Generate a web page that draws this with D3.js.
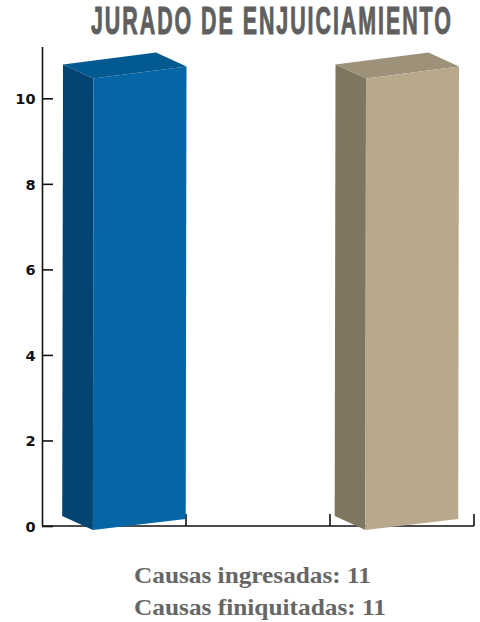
<!DOCTYPE html>
<html><head><meta charset="utf-8">
<script src="https://cdn.jsdelivr.net/npm/d3@7"></script>
<style>html,body{margin:0;padding:0;background:#fff}svg{display:block}</style>
</head><body><svg id="c" width="480" height="622"></svg>
<script>
const title = "JURADO DE ENJUICIAMIENTO";
const categories = ["Causas ingresadas", "", "Causas finiquitadas"];
const values = [11, null, 11];
const yTicks = [0, 2, 4, 6, 8, 10];
const frontColors = ["#0565a5", null, "#b8a98d"];
const sideColors = ["#024573", null, "#7e7660"];
const topColors = ["#035a91", null, "#9d917a"];

const svg = d3.select("#c");
const y = d3.scaleLinear().domain([0, 11.2]).range([526, 47]);
const xAxisScale = d3.scaleBand().domain(categories).range([42, 474]);
const barLeft = d3.scalePoint().domain(categories).range([63, 335.5]);

const dx = 30.5, frontW = 93, topRise = 12, depth = 14;
const data = categories.map((c, i) => ({c, v: values[i], i})).filter(d => d.v != null);
const pts = a => a.map(p => p.join(",")).join(" ");

const axisG = svg.append("g").attr("stroke", "#111").attr("stroke-width", 1.6).attr("fill", "none");
const yAxis = d3.axisRight(y).tickValues(yTicks).tickSize(11).tickFormat("");
svg.append("g").attr("transform", "translate(42,0)").call(yAxis)
  .call(g => g.selectAll("line").attr("stroke", "#111").attr("stroke-width", 1.6))
  .call(g => g.select(".domain").attr("stroke", "#111").attr("stroke-width", 1.6).attr("d", `M0.5,${y.range()[1]}V${y.range()[0]}`));
axisG.append("line").attr("x1", 42).attr("x2", 474).attr("y1", y(0)).attr("y2", y(0));
const edges = [...categories.map(c => xAxisScale(c) + xAxisScale.bandwidth()).filter((e) => e > 42)];
axisG.selectAll(".t").data(edges).join("line").attr("class", "t")
  .attr("x1", d => d).attr("x2", d => d).attr("y1", y(0)).attr("y2", y(0) - 12);

svg.append("g").selectAll("text").data(yTicks).join("text")
  .attr("x", 35.5).attr("y", d => y(d) + 6).attr("text-anchor", "end")
  .attr("font-family", "DejaVu Sans").attr("font-weight", 700).attr("font-size", 14.5).attr("fill", "#111")
  .text(d => d);

const bars = svg.append("g").selectAll("g").data(data).join("g");
bars.each(function (d) {
  const g = d3.select(this), L = barLeft(d.c), T = y(d.v), B = y(0);
  const fl = L + dx, fr = fl + frontW;
  // top face
  g.append("polygon").attr("fill", topColors[d.i]).attr("points", pts([
    [L, T + 9], [fl, T + 9 + depth], [fr, T + 9 + depth - topRise], [fr - dx, T + 9 + depth - topRise - depth]]));
  // left face
  g.append("polygon").attr("fill", sideColors[d.i]).attr("points", pts([
    [L, T + 9], [fl, T + 9 + depth], [fl - 0.6, B + 4], [L - 0.8, B - 10]]));
  // front face
  g.append("polygon").attr("fill", frontColors[d.i]).attr("points", pts([
    [fl, T + 9 + depth], [fr, T + 9 + depth - topRise], [fr - 0.8, B - 7], [fl - 0.6, B + 4]]));
});

const titleText = svg.append("text")
  .attr("font-family", "Liberation Sans").attr("font-weight", 700).attr("font-size", 38).attr("fill", "#5f5f5f")
  .attr("stroke", "#5f5f5f").attr("stroke-width", 1).attr("letter-spacing", 3.5)
  .text(title);
const natural = titleText.node().getComputedTextLength();
titleText.attr("transform", `translate(91,34) scale(${360 / (natural - 3.5)},1)`);

svg.append("g").selectAll("text").data(data).join("text")
  .attr("x", 134).attr("y", (d, i) => 583 + i * 32)
  .attr("font-family", "Liberation Serif").attr("font-weight", 700).attr("font-size", 24).attr("fill", "#666")
  .attr("textLength", (d, i) => i === 0 ? 237 : 252).attr("lengthAdjust", "spacingAndGlyphs")
  .text(d => `${d.c}: ${d.v}`);
</script></body></html>
